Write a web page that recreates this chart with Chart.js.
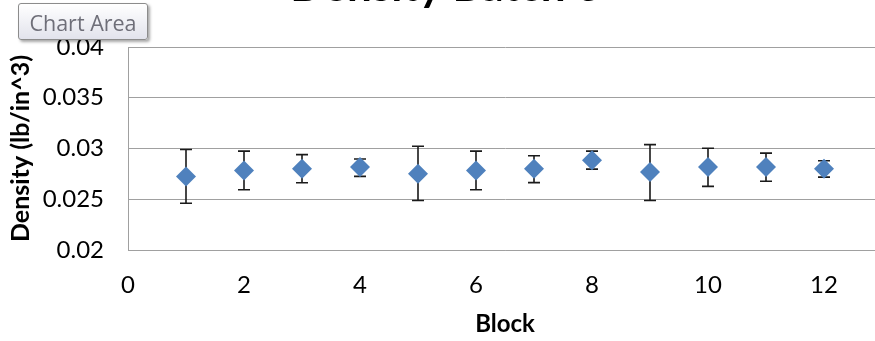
<!DOCTYPE html>
<html><head><meta charset="utf-8">
<script src="https://cdn.jsdelivr.net/npm/chart.js@4/dist/chart.umd.min.js"></script>
<style>
html,body{margin:0;padding:0;background:#fff;overflow:hidden;width:875px;height:341px;}
#wrap{position:absolute;left:0;top:-40px;width:892px;height:381px;}
#tip{position:absolute;left:18px;top:3px;width:130px;height:37px;box-sizing:border-box;border:1px solid #8c8c8c;border-radius:3px;
background:linear-gradient(#ffffff,#e2e3ec);box-shadow:2px 2px 3px rgba(0,0,0,0.35);font-family:"Open Sans",sans-serif;font-size:21.5px;color:#6e6e78;
line-height:37px;text-align:center;}
</style></head>
<body>
<div id="wrap"><canvas id="c" width="892" height="381"></canvas></div>
<div id="tip">Chart Area</div>
<script>
const blocks = [1,2,3,4,5,6,7,8,9,10,11,12];
const density = [0.02725,0.02784,0.02800,0.02817,0.02752,0.02784,0.02800,0.02884,0.02768,0.02817,0.02817,0.02800];
const errPlus  = [0.00265,0.00190,0.00140,0.00080,0.00270,0.00190,0.00128,0.00090,0.00270,0.00185,0.00137,0.00080];
const errMinus = [0.00265,0.00190,0.00137,0.00092,0.00265,0.00190,0.00136,0.00087,0.00280,0.00190,0.00140,0.00082];
const xTicks = [0,2,4,6,8,10,12];
const yTicks = [0.02,0.025,0.03,0.035,0.04];
const titleText = 'Density Batch 3';
const xTitle = 'Block';
const yTitle = 'Density (lb/in^3)';

const errorBars = {
  id:'errorBars',
  beforeDatasetsDraw(chart){
    const {ctx, scales:{x,y}} = chart;
    ctx.save();
    ctx.strokeStyle = '#1a1a1a';
    ctx.lineWidth = 1.6;
    blocks.forEach((b,i)=>{
      const px = x.getPixelForValue(b);
      const top = y.getPixelForValue(density[i]+errPlus[i]);
      const bot = y.getPixelForValue(density[i]-errMinus[i]);
      ctx.beginPath();
      ctx.moveTo(px,top); ctx.lineTo(px,bot);
      ctx.moveTo(px-6,top); ctx.lineTo(px+6,top);
      ctx.moveTo(px-6,bot); ctx.lineTo(px+6,bot);
      ctx.stroke();
    });
    ctx.restore();
  }
};

new Chart(document.getElementById('c'),{
  type:'scatter',
  data:{datasets:[{
    data: blocks.map((b,i)=>({x:b,y:density[i]})),
    pointStyle:'rectRot', pointRadius:10, pointHoverRadius:10,
    backgroundColor:'#4F81BD', borderColor:'#4F81BD', borderWidth:0
  }]},
  options:{
    responsive:false, animation:false,
    layout:{padding:{left:0,right:0,top:0,bottom:0}},
    plugins:{
      legend:{display:false}, tooltip:{enabled:false},
      title:{display:true,text:titleText,color:'#000',font:{family:'Lato',size:44,weight:'bold'},padding:{top:0,bottom:34.2}}
    },
    scales:{
      x:{type:'linear',min:0,max:13,
        afterBuildTicks(s){s.ticks = xTicks.map(v=>({value:v}));},
        afterFit(s){s.height=91;},
        grid:{display:false,drawTicks:false},
        border:{display:true,color:'#a0a0a0',width:1},
        ticks:{padding:20.6,color:'#000',font:{family:'Lato',size:24},callback:v=>String(v)},
        title:{display:true,text:xTitle,color:'#000',font:{family:'Lato',size:24,weight:'bold'},padding:{top:0,bottom:2.2}}
      },
      y:{type:'linear',min:0.02,max:0.04,
        afterBuildTicks(s){s.ticks = yTicks.map(v=>({value:v}));},
        afterFit(s){s.width=128;},
        grid:{color:'#a0a0a0',lineWidth:1,drawTicks:false},
        border:{display:true,color:'#a0a0a0',width:1},
        ticks:{padding:24,color:'#000',font:{family:'Lato',size:24},callback:v=>String(+v.toFixed(3))},
        title:{display:true,text:yTitle,color:'#000',font:{family:'Lato',size:25,weight:'bold'},padding:{top:6,bottom:0}}
      }
    }
  },
  plugins:[errorBars]
});
</script>
</body></html>
